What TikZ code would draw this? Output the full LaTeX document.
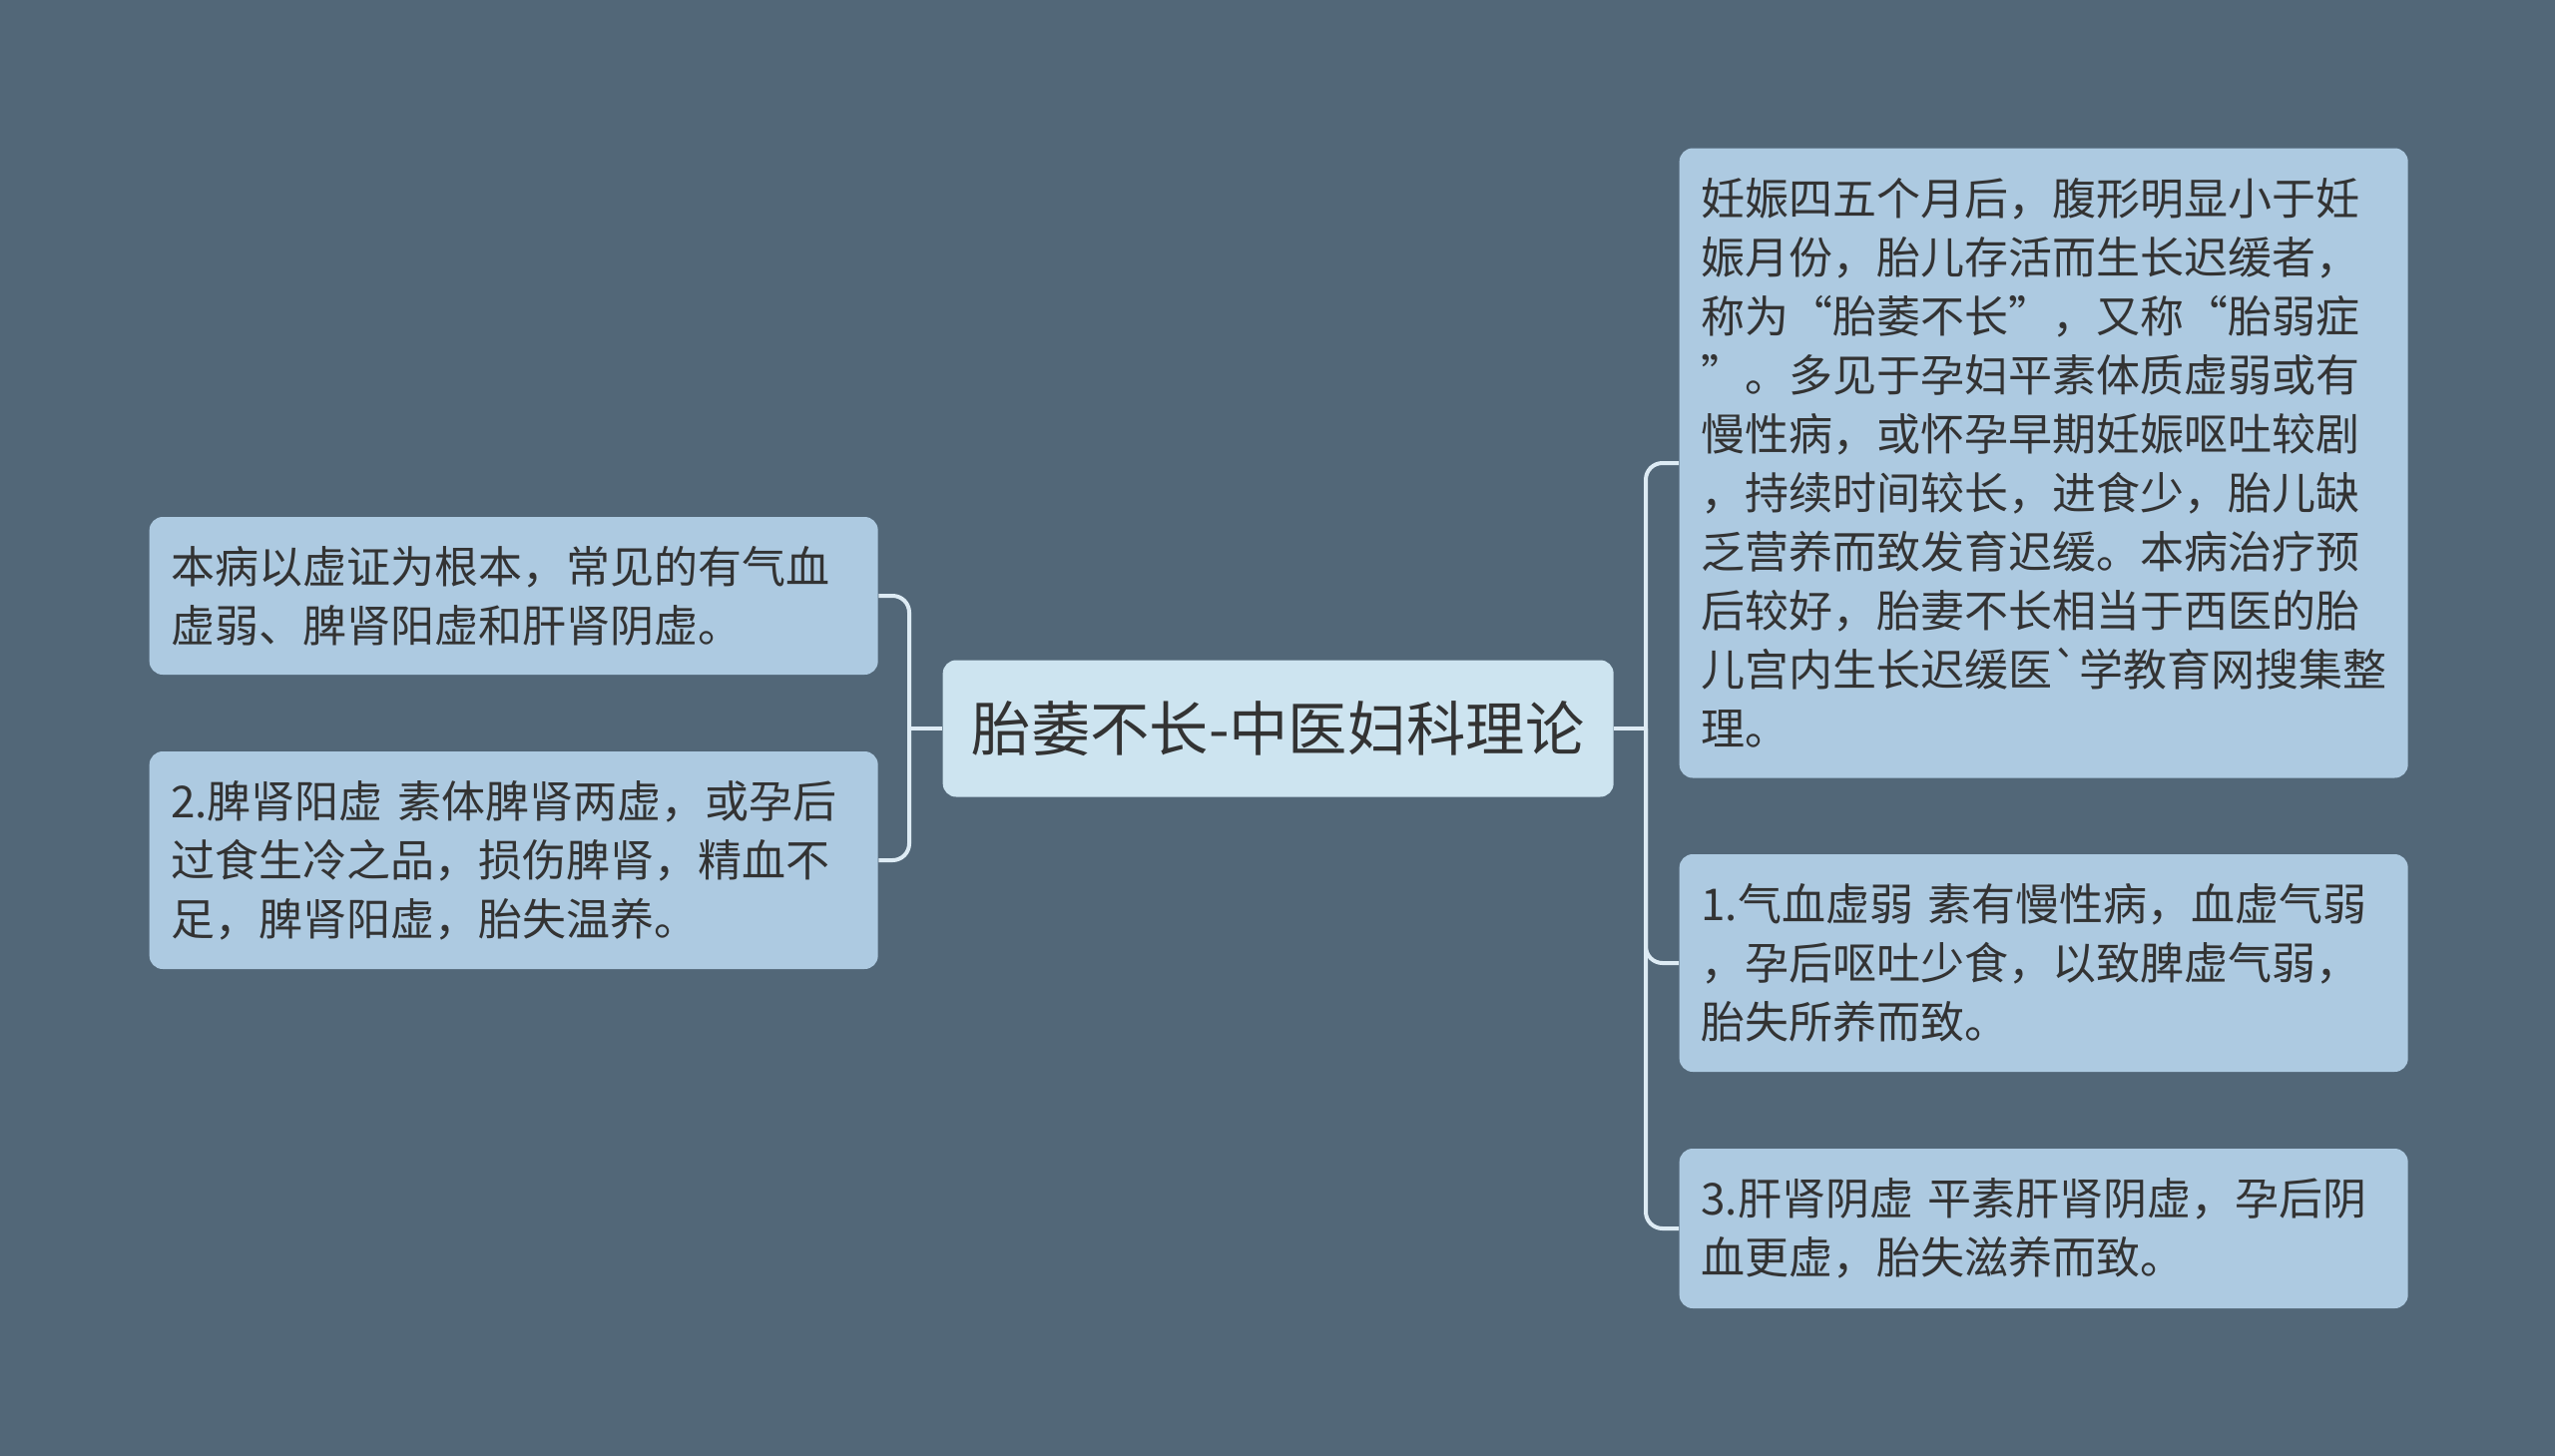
\documentclass[tikz,border=0pt]{standalone}
\usepackage{fontspec}
\setmainfont{Noto Sans CJK SC}[Ligatures=TeXOff]
\definecolor{bgc}{HTML}{526778}
\definecolor{leaf}{HTML}{ADCAE1}
\definecolor{rootc}{HTML}{CDE4F0}
\definecolor{linec}{HTML}{DDEBF4}
\definecolor{txt}{HTML}{333333}
\tikzset{
  leafbox/.style={fill=leaf, rounded corners=4pt, draw=none, text=txt,
    font=\fontsize{13.2}{17.7}\selectfont, align=left, text width=206pt,
    inner xsep=6.3pt, inner ysep=0pt, minimum width=219pt, anchor=west},
  rootbox/.style={fill=rootc, rounded corners=4pt, draw=none, text=txt,
    font=\fontsize{17.8}{20}\selectfont, minimum width=201.6pt, minimum height=41.1pt, anchor=west},
  conn/.style={draw=linec, line width=1.2pt, rounded corners=5pt}
}
\begin{document}
\begin{tikzpicture}[x=0.3pt,y=-0.3pt]
\fill[bgc] (0,0) rectangle (2560,1459);
\useasboundingbox (0,0) rectangle (2560,1459);
\node[rootbox] (c) at (944,730) {胎萎不长-中医妇科理论};
\node[leafbox, minimum height=47.4pt] (l1) at (149,597) {本病以虚证为根本，常见的有气血\\虚弱、脾肾阳虚和肝肾阴虚。};
\node[leafbox, minimum height=65.4pt] (l2) at (149,862) {2.脾肾阳虚 素体脾肾两虚，或孕后\\过食生冷之品，损伤脾肾，精血不\\足，脾肾阳虚，胎失温养。};
\node[leafbox, minimum height=189.3pt] (ra) at (1682,464) {妊娠四五个月后，腹形明显小于妊\\娠月份，胎儿存活而生长迟缓者，\\称为“胎萎不长”，又称“胎弱症\\”。多见于孕妇平素体质虚弱或有\\慢性病，或怀孕早期妊娠呕吐较剧\\，持续时间较长，进食少，胎儿缺\\乏营养而致发育迟缓。本病治疗预\\后较好，胎妻不长相当于西医的胎\\儿宫内生长迟缓医`学教育网搜集整\\理。};
\node[leafbox, minimum height=65.4pt] (rb) at (1682,965) {1.气血虚弱 素有慢性病，血虚气弱\\，孕后呕吐少食，以致脾虚气弱，\\胎失所养而致。};
\node[leafbox, minimum height=48pt] (rc) at (1682,1231) {3.肝肾阴虚 平素肝肾阴虚，孕后阴\\血更虚，胎失滋养而致。};
\coordinate (lj) at (911,730);
\coordinate (rj) at (1649,730);
\draw[conn] (c.west) -- (lj);
\draw[conn] (lj) |- (l1.east);
\draw[conn] (lj) |- (l2.east);
\draw[conn] (c.east) -- (rj);
\draw[conn] (rj) |- (ra.west);
\draw[conn] (rj) |- (rb.west);
\draw[conn] (rj) |- (rc.west);
\end{tikzpicture}
\end{document}
